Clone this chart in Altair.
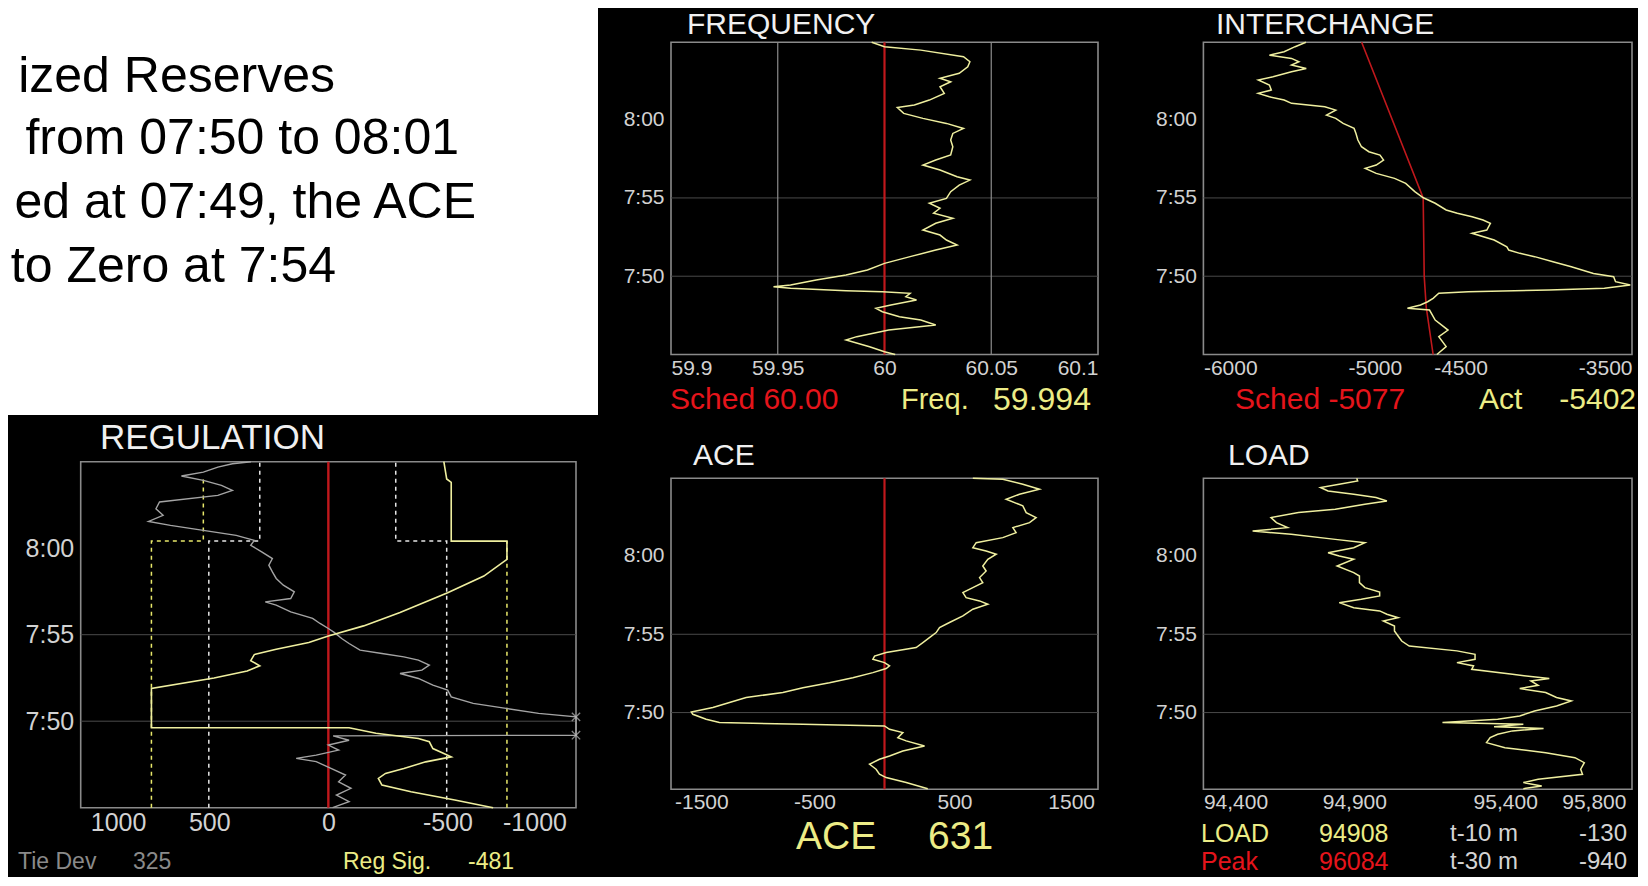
import altair as alt
import pandas as pd

W, H = 1630, 869
FONT = "Liberation Sans"

# ---------------- colours ----------------
FRAME = "#8a8a8a"
GRID_H = "#4a4a4a"
GRID_V = "#8c8c8c"
YEL = "#efef9f"
RED = "#c0181c"
GRAY_TRACE = "#a4a4a4"
LABEL = "#d2d2d2"
TITLE = "#f0f0f0"
TXT_RED = "#e5141b"
TXT_YEL = "#ecec86"
TXT_GRAY = "#8a8a8a"
TXT_LIGHT = "#d4d4d4"

# ---------------- text ----------------
SLIDE_LINES = ["ized Reserves", "from 07:50 to 08:01", "ed at 07:49, the ACE", "to Zero at 7:54"]
PANEL_TITLES = ["FREQUENCY", "INTERCHANGE", "REGULATION", "ACE", "LOAD"]

# ---------------- time axis (minutes after 07:45) ----------------
TIME_TICKS = [5, 10, 15]          # 7:50, 7:55, 8:00
GRID_TIMES = [5, 10]              # 7:50, 7:55
TIME_EXPR = ("floor((465 + datum.value) / 60) + ':' + "
             "((465 + datum.value) % 60 < 10 ? '0' : '') + ((465 + datum.value) % 60)")

# ---------------- FREQUENCY ----------------
FREQ_DOMAIN = [59.9, 60.1]
FREQ_TICKS = [59.9, 59.95, 60.0, 60.05, 60.1]
FREQ_GRID = [59.95, 60.05]
FREQ_SCHED = 60.00
FREQ_NOW = 59.994
FREQ_T = [0.0, 0.18, 0.50, 0.93, 1.14, 1.56, 1.88, 2.20, 2.41, 2.73, 2.95, 3.16, 3.48, 3.69, 3.91,
          4.01, 4.07, 4.23, 4.33, 4.44, 4.76, 5.08, 5.40, 5.82, 6.25, 6.67, 6.99, 7.31, 7.63, 7.95,
          8.38, 8.70, 9.02, 9.34, 9.66, 9.97, 10.40, 10.82, 11.14, 11.35, 11.78, 12.10, 12.42, 12.74,
          13.27, 13.70, 14.12, 14.44, 14.76, 15.08, 15.40, 15.78, 15.93, 16.25, 16.68, 17.10, 17.42,
          17.64, 17.96, 18.38, 18.70, 19.02, 19.44, 19.66, 19.94]
FREQ_V = [60.005, 60.000, 59.993, 59.982, 59.987, 60.002, 60.024, 60.017, 60.007, 59.999, 59.996,
          60.003, 60.015, 60.010, 60.012, 59.999, 59.982, 59.956, 59.948, 59.956, 59.968, 59.982,
          59.992, 60.000, 60.012, 60.024, 60.034, 60.029, 60.026, 60.018, 60.024, 60.032, 60.023,
          60.026, 60.021, 60.029, 60.031, 60.035, 60.040, 60.034, 60.026, 60.018, 60.024, 60.031,
          60.032, 60.031, 60.032, 60.037, 60.029, 60.018, 60.009, 60.006, 60.014, 60.021, 60.028,
          60.026, 60.031, 60.026, 60.035, 60.039, 60.040, 60.037, 60.017, 60.000, 59.994]

# ---------------- INTERCHANGE ----------------
INTER_DOMAIN = [-6000, -3500]
INTER_TICKS = [-6000, -5000, -4500, -3500]
INTER_SCHED_NOW = -5077
INTER_ACT_NOW = -5402
INTER_SCHED_T = [0.0, 3.0, 5.0, 10.0, 19.94]
INTER_SCHED_V = [-4660, -4700, -4712, -4718, -5077]
INTER_T = [0.0, 0.5, 1.14, 1.56, 2.20, 2.84, 2.95, 3.16, 3.37, 3.59, 3.91, 4.01, 4.12, 4.23, 4.44,
           4.65, 4.97, 5.18, 5.61, 5.93, 6.25, 6.46, 6.67, 6.88, 7.31, 7.74, 7.95, 8.38, 8.59, 8.80,
           9.02, 9.23, 9.66, 10.01, 10.40, 10.93, 11.25, 11.57, 11.89, 12.10, 12.42, 12.74, 12.95,
           13.27, 13.70, 14.12, 14.44, 14.76, 15.08, 15.29, 15.61, 15.82, 16.04, 16.25, 16.46, 16.68,
           16.89, 17.21, 17.53, 17.74, 18.06, 18.27, 18.49, 18.70, 18.91, 19.12, 19.34, 19.66, 19.94]
INTER_V = [-4638, -4584, -4627, -4573, -4648, -4681, -4810, -4734, -4692, -4660, -4627, -4455, -3983,
           -3661, -3510, -3596, -3607, -3725, -3854, -3961, -4068, -4154, -4219, -4230, -4304, -4433,
           -4347, -4326, -4369, -4433, -4519, -4584, -4648, -4717, -4767, -4820, -4885, -4992, -5056,
           -4992, -4949, -4970, -5035, -5078, -5099, -5110, -5121, -5185, -5228, -5282, -5228, -5292,
           -5486, -5529, -5615, -5680, -5604, -5615, -5680, -5594, -5486, -5400, -5486, -5443, -5486,
           -5615, -5529, -5465, -5402]

# ---------------- REGULATION ----------------
REG_DOMAIN = [-1040, 1040]
REG_TICKS = [1000, 500, 0, -500, -1000]
TIE_DEV_NOW = 325
REG_SIG_NOW = -481
REG_SIG_T = [0.0, 0.44, 0.92, 1.31, 1.69, 1.98, 2.27, 2.65, 2.94, 3.13, 3.42, 3.81, 4.00, 4.30, 4.62,
             4.62, 6.89, 7.50, 7.90, 8.20, 8.50, 8.85, 9.16, 9.55, 9.93, 10.51, 11.28, 12.43, 13.39,
             14.35, 15.41, 15.41, 18.80, 19.00, 20.0]
REG_SIG_V = [-692, -531, -347, -225, -210, -240, -317, -409, -516, -485, -439, -424, -378, -200, -87,
             743, 743, 480, 341, 288, 326, 311, 219, 82, 0, -148, -301, -501, -653, -750,
             -750, -516, -516, -497, -485]
TIE_T = [0.0, 0.35, 0.73, 1.12, 1.50, 1.89, 2.27, 2.66, 2.85, 3.04, 3.33, 3.62, 3.90, 4.15, 4.19,
         4.58, 5.25, 5.45, 5.74, 6.03, 6.41, 6.80, 7.08, 7.47, 7.76, 7.95, 8.24, 8.53, 8.72, 8.91,
         9.11, 9.49, 9.78, 10.12, 10.36, 10.65, 10.94, 11.32, 11.71, 11.90, 12.09, 12.48, 12.86, 13.25,
         13.63, 14.02, 14.40, 14.79, 15.17, 15.45, 15.74, 16.03, 16.32, 16.55, 16.90, 17.28, 17.67,
         18.05, 18.34, 18.63, 18.92, 19.17, 19.40, 19.69, 19.88, 20.0]
TIE_V = [-18, -87, -34, -95, -43, -72, -11, 51, 135, 51, -43, 0, -87, -20, -1300, -1300, -1100, -883,
         -746, -608, -516, -501, -439, -378, -301, -393, -424, -378, -317, -225, -133, -87, -56, -26,
         0, 35, 66, 158, 219, 265, 158, 143, 189, 219, 235, 250, 235, 280, 326, 311, 387, 525, 663,
         755, 694, 724, 709, 464, 403, 449, 525, 617, 525, 464, 403, 325]
OFFSCALE_T = [4.19, 5.25]
OFFSCALE_V = [-1300, -1100]
HI_LIMIT_T = [0.0, 15.41, 15.41, 19.0]
HI_LIMIT_V = [743, 743, 525, 525]
LO_LIMIT_T = [0.0, 15.41]
LO_LIMIT_V = [-750, -750]
HI_BAND_T = [0.0, 15.41, 15.41, 20.0]
HI_BAND_V = [502, 502, 288, 288]
LO_BAND_T = [0.0, 15.41, 15.41, 20.0]
LO_BAND_V = [-497, -497, -283, -283]

# ---------------- ACE ----------------
ACE_DOMAIN = [-1525, 1525]
ACE_TICKS = [-1500, -500, 500, 1500]
ACE_NOW = 631
ACE_T = [0.14, 0.53, 0.85, 1.06, 1.38, 1.70, 2.02, 2.23, 2.55, 2.87, 3.19, 3.40, 3.72, 3.93, 4.15,
         4.25, 4.36, 4.57, 4.89, 5.04, 5.32, 5.64, 5.96, 6.28, 6.59, 6.91, 7.23, 7.55, 7.81, 7.98,
         8.19, 8.40, 8.61, 8.83, 9.15, 9.47, 9.79, 10.11, 10.43, 10.75, 11.17, 11.60, 11.92, 12.13,
         12.34, 12.66, 12.98, 13.30, 13.62, 14.04, 14.36, 14.79, 15.11, 15.32, 15.53, 15.85, 16.17,
         16.49, 16.81, 17.13, 17.45, 17.77, 18.20, 18.62, 18.94, 19.26, 19.58, 19.90, 19.96]
ACE_V = [309, 155, 12, -36, -60, -107, -36, 36, 131, 286, 155, 95, 131, 36, 0, -583, -1179, -1274,
         -1369, -1380, -1226, -1107, -988, -726, -583, -393, -226, -83, 12, 36, 0, -83, -71, 12, 226,
         274, 321, 369, 393, 464, 560, 631, 738, 679, 583, 560, 631, 702, 679, 726, 702, 738, 798, 726,
         631, 655, 845, 940, 917, 1036, 1083, 1012, 988, 869, 964, 1107, 988, 845, 631]

# ---------------- LOAD ----------------
LOAD_DOMAIN = [94400, 95820]
LOAD_TICKS = [94400, 94900, 95400, 95800]
LOAD_NOW = 94908
LOAD_PEAK = 96084
LOAD_T10 = -130
LOAD_T30 = -940
LOAD_T = [0.14, 0.31, 0.53, 0.74, 1.06, 1.38, 1.80, 2.12, 2.44, 2.76, 3.08, 3.40, 3.61, 3.83, 3.98,
          4.10, 4.25, 4.36, 4.57, 4.78, 5.10, 5.42, 5.74, 5.96, 6.28, 6.53, 6.74, 7.02, 7.17, 7.44,
          7.76, 7.98, 8.19, 8.40, 8.72, 8.94, 9.25, 9.57, 9.89, 10.21, 10.53, 10.85, 11.06, 11.28,
          11.49, 11.70, 12.02, 12.23, 12.45, 12.70, 12.98, 13.30, 13.72, 13.94, 14.36, 14.79, 15.00,
          15.21, 15.53, 15.85, 16.06, 16.38, 16.59, 16.81, 17.13, 17.45, 17.77, 17.98, 18.30, 18.51,
          18.73, 18.94, 19.15, 19.37, 19.58, 19.79, 19.96]
LOAD_V = [95460, 95521, 95460, 95509, 95656, 95650, 95662, 95631, 95534, 95399, 95338, 95350, 95375,
          95424, 95527, 95363, 95460, 95192, 95375, 95448, 95497, 95570, 95619, 95570, 95534, 95448,
          95509, 95485, 95546, 95424, 95289, 95295, 95240, 95300, 95300, 95240, 95082, 95057, 95045,
          95033, 95033, 94996, 95045, 95008, 94984, 94898, 94850, 94923, 94984, 94984, 94935, 94917,
          94917, 94898, 94843, 94898, 94850, 94813, 94898, 94935, 94837, 94691, 94563, 94679, 94642,
          94624, 94715, 94837, 94935, 95008, 94972, 94898, 94813, 94788, 94850, 94911, 94908]


# ======================================================================
def x_axis(values, expr, y_px, size, pad):
    return alt.Axis(orient="bottom", offset=y_px - H, values=values, labelExpr=expr,
                    domain=False, ticks=False, tickSize=0, grid=False, title=None,
                    labelFont=FONT, labelFontSize=size, labelColor=LABEL,
                    labelPadding=pad, labelFlush=12, labelOverlap=False)


def y_axis(x_px, size, pad):
    return alt.Axis(orient="left", offset=-x_px, values=TIME_TICKS, labelExpr=TIME_EXPR,
                    domain=False, ticks=False, tickSize=0, grid=False, title=None,
                    labelFont=FONT, labelFontSize=size, labelColor=LABEL,
                    labelPadding=pad, labelOverlap=False)


def series(t, v):
    return pd.DataFrame({"t": t, "v": v, "i": list(range(len(t)))})


def make_panel(xdom, xpx, tdom, tpx, xax, yax, reverse=False, clamp=False):
    xs = alt.Scale(domain=xdom, range=xpx, zero=False, nice=False, reverse=reverse, clamp=clamp)
    ys = alt.Scale(domain=tdom, range=tpx, zero=False, nice=False)

    def X(f):
        return alt.X(f, scale=xs, axis=xax)

    def Y(f):
        return alt.Y(f, scale=ys, axis=yax)

    frame = alt.Chart(pd.DataFrame({"x": [xdom[0]], "x2": [xdom[1]],
                                    "t": [tdom[0]], "t2": [tdom[1]]})).mark_rect(
        fillOpacity=0, stroke=FRAME, strokeWidth=1.6).encode(
        x=X("x:Q"), x2="x2:Q", y=Y("t:Q"), y2="t2:Q")
    hgrid = alt.Chart(pd.DataFrame({"t": GRID_TIMES, "x": xdom[0], "x2": xdom[1]})).mark_rule(
        color=GRID_H, strokeWidth=1).encode(x=X("x:Q"), x2="x2:Q", y=Y("t:Q"))
    return X, Y, [frame, hgrid]


def vline(X, Y, values, tdom, color, width, dash=None):
    df = pd.DataFrame({"v": values, "t": tdom[0], "t2": tdom[1]})
    kw = dict(color=color, strokeWidth=width)
    if dash:
        kw["strokeDash"] = dash
    return alt.Chart(df).mark_rule(**kw).encode(x=X("v:Q"), y=Y("t:Q"), y2="t2:Q")


def trace(X, Y, t, v, color, width, dash=None):
    kw = dict(color=color, strokeWidth=width)
    if dash:
        kw["strokeDash"] = dash
    return alt.Chart(series(t, v)).mark_line(**kw).encode(
        x=X("v:Q"), y=Y("t:Q"), order=alt.Order("i:Q"))


def txt(s, x, y, size, color, align="left", baseline="middle"):
    return alt.Chart(pd.DataFrame({"s": [s]})).mark_text(
        align=align, baseline=baseline, fontSize=size, font=FONT, color=color).encode(
        x=alt.value(x), y=alt.value(y), text="s:N")


num = "'' + datum.value"

T_TOP = [0, 19.94]
T_BOT = [0.1, 19.96]
T_REG = [0, 20]

# ---------------- FREQUENCY panel ----------------
X, Y, base = make_panel(FREQ_DOMAIN, [663, 1090], T_TOP, [346.5, 34.3],
                        x_axis(FREQ_TICKS, num, 346.5, 21, 2.5), y_axis(663, 21, 7))
freq = alt.layer(*base,
                 vline(X, Y, FREQ_GRID, T_TOP, GRID_V, 1.2),
                 vline(X, Y, [FREQ_SCHED], T_TOP, RED, 2.2),
                 trace(X, Y, FREQ_T, FREQ_V, YEL, 1.5))

# ---------------- INTERCHANGE panel ----------------
X, Y, base = make_panel(INTER_DOMAIN, [1195.4, 1624], T_TOP, [346.5, 34.3],
                        x_axis(INTER_TICKS, num, 346.5, 21, 2.5), y_axis(1195.4, 21, 7))
inter = alt.layer(*base,
                  trace(X, Y, INTER_SCHED_T, INTER_SCHED_V, RED, 1.6),
                  trace(X, Y, INTER_T, INTER_V, YEL, 1.5))

# ---------------- REGULATION panel ----------------
X, Y, base = make_panel(REG_DOMAIN, [72.7, 568], T_REG, [799.7, 453.7],
                        x_axis(REG_TICKS, num, 799.7, 25, 3), y_axis(72.7, 25, 7),
                        reverse=True, clamp=True)
cross = alt.Chart(series(OFFSCALE_T, OFFSCALE_V)).mark_point(
    shape="M-1,-1L1,1M-1,1L1,-1", size=70, filled=False, stroke="#bcbcbc", strokeWidth=1.3).encode(
    x=X("v:Q"), y=Y("t:Q"))
reg = alt.layer(*base,
                trace(X, Y, HI_BAND_T, HI_BAND_V, "#e6e6e6", 1.5, [4, 4]),
                trace(X, Y, LO_BAND_T, LO_BAND_V, "#e6e6e6", 1.5, [4, 4]),
                trace(X, Y, HI_LIMIT_T, HI_LIMIT_V, "#e8e86a", 1.5, [4, 4]),
                trace(X, Y, LO_LIMIT_T, LO_LIMIT_V, "#e8e86a", 1.5, [4, 4]),
                vline(X, Y, [0], T_REG, RED, 2.4),
                trace(X, Y, TIE_T, TIE_V, GRAY_TRACE, 1.4),
                trace(X, Y, REG_SIG_T, REG_SIG_V, YEL, 1.6),
                cross)

# ---------------- ACE panel ----------------
X, Y, base = make_panel(ACE_DOMAIN, [663, 1090], T_BOT, [781.3, 470.3],
                        x_axis(ACE_TICKS, num, 781.3, 21, 2), y_axis(663, 21, 7))
ace = alt.layer(*base,
                vline(X, Y, [0], T_BOT, RED, 2.2),
                trace(X, Y, ACE_T, ACE_V, YEL, 1.5))

# ---------------- LOAD panel ----------------
X, Y, base = make_panel(LOAD_DOMAIN, [1195.4, 1624], T_BOT, [781.3, 470.3],
                        x_axis(LOAD_TICKS, "format(datum.value, ',')", 781.3, 21, 2),
                        y_axis(1195.4, 21, 7))
load = alt.layer(*base, trace(X, Y, LOAD_T, LOAD_V, YEL, 1.5))

# ---------------- slide background & text ----------------
white = alt.Chart(pd.DataFrame({"a": [0]})).mark_rect(color="white").encode(
    x=alt.value(0), x2=alt.value(590), y=alt.value(0), y2=alt.value(407))
slide = [
    txt(SLIDE_LINES[0], 327, 84, 50, "black", "right", "alphabetic"),
    txt(SLIDE_LINES[1], 451, 146, 50, "black", "right", "alphabetic"),
    txt(SLIDE_LINES[2], 468, 210, 50, "black", "right", "alphabetic"),
    txt(SLIDE_LINES[3], 328, 274, 50, "black", "right", "alphabetic"),
]

titles = [
    txt(PANEL_TITLES[0], 679, 17, 30, TITLE),
    txt(PANEL_TITLES[1], 1208, 17, 30, TITLE),
    txt(PANEL_TITLES[2], 92, 430, 35, TITLE),
    txt(PANEL_TITLES[3], 685, 448, 30, TITLE),
    txt(PANEL_TITLES[4], 1220, 448, 30, TITLE),
]

readouts = [
    txt(f"Sched {FREQ_SCHED:.2f}", 662, 392, 30, TXT_RED),
    txt("Freq.", 893, 392, 29, TXT_YEL),
    txt(f"{FREQ_NOW:.3f}", 1034, 392, 32, TXT_YEL, "center"),
    txt(f"Sched {INTER_SCHED_NOW}", 1227, 392, 30, TXT_RED),
    txt("Act", 1471, 392, 30, TXT_YEL),
    txt(f"{INTER_ACT_NOW}", 1628, 392, 30, TXT_YEL, "right"),
    txt("Tie Dev", 10, 854, 23, TXT_GRAY),
    txt(f"{TIE_DEV_NOW}", 125, 854, 23, TXT_GRAY),
    txt("Reg Sig.", 335, 854, 23, TXT_YEL),
    txt(f"{REG_SIG_NOW}", 460, 854, 23, TXT_YEL),
    txt("ACE", 788, 829, 39, TXT_YEL),
    txt(f"{ACE_NOW}", 920, 829, 39, TXT_YEL),
    txt("LOAD", 1193, 826, 25, TXT_YEL),
    txt(f"{LOAD_NOW}", 1311, 826, 25, TXT_YEL),
    txt("t-10 m", 1442, 826, 24, TXT_LIGHT),
    txt(f"{LOAD_T10}", 1619, 826, 24, TXT_LIGHT, "right"),
    txt("Peak", 1193, 854, 25, TXT_RED),
    txt(f"{LOAD_PEAK}", 1311, 854, 25, TXT_RED),
    txt("t-30 m", 1442, 854, 24, TXT_LIGHT),
    txt(f"{LOAD_T30}", 1619, 854, 24, TXT_LIGHT, "right"),
]

chart = alt.layer(white, *slide, freq, inter, reg, ace, load, *titles, *readouts).resolve_scale(
    x="independent", y="independent").resolve_axis(x="independent", y="independent").properties(
    width=W, height=H, background="black", padding=0,
    autosize=alt.AutoSizeParams(type="none")).configure_view(strokeWidth=0)

chart.save("out.html", embed_options={"renderer": "svg", "actions": False})
